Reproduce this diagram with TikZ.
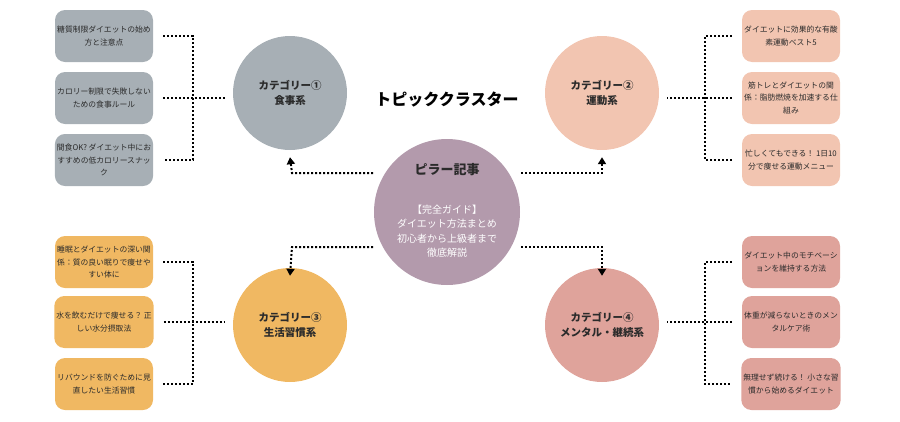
\documentclass[tikz,border=0pt]{standalone}
\usepackage{fontspec}
\setmainfont{Noto Sans CJK JP}
\usetikzlibrary{arrows.meta}
\definecolor{cgray}{HTML}{A7AFB5}
\definecolor{cpeach}{HTML}{F2C5B1}
\definecolor{corange}{HTML}{F0B862}
\definecolor{crose}{HTML}{DFA39B}
\definecolor{cmauve}{HTML}{B39AAC}
\definecolor{ctext}{HTML}{2B2B2B}
\tikzset{
 boxs/.style={rounded corners=10pt,minimum width=98pt,minimum height=52pt,align=center,font=\fontsize{7.8}{12.5}\selectfont,text=ctext,inner sep=2pt},
 catc/.style={circle,minimum size=114pt,inner sep=0pt,align=center,font=\bfseries\fontsize{10.5}{15}\selectfont,text=ctext},
 dots/.style={line width=2pt,dash pattern=on 2pt off 2pt,line cap=butt},
 arr/.style={dots,-{Triangle[width=8pt,length=7pt]}},
}
\begin{document}
\begin{tikzpicture}[x=1pt,y=-1pt]
\useasboundingbox (0,0) rectangle (900,421);
\node[circle,fill=cmauve,minimum size=146pt,inner sep=0pt] (pil) at (447,212) {};
\node[font=\bfseries\fontsize{13}{15}\selectfont,text=ctext] (pt) at (447,170) {ピラー記事};
\node[font=\fontsize{10}{14.5}\selectfont,text=white,align=center] (pb) at (447,231) {【完全ガイド】\\ダイエット方法まとめ\\初心者から上級者まで\\徹底解説};
\node[font=\bfseries\fontsize{16}{18}\selectfont,text=black] (title) at (447,100) {トピッククラスター};
\node[catc,fill=cgray] (c1) at (290,93) {カテゴリー①\\食事系};
\node[catc,fill=cpeach] (c2) at (602,93) {カテゴリー②\\運動系};
\node[catc,fill=corange] (c3) at (290,325) {カテゴリー③\\生活習慣系};
\node[catc,fill=crose] (c4) at (602,325) {カテゴリー④\\メンタル・継続系};
% boxes
\node[boxs,fill=cgray] (a1) at (104,36) {糖質制限ダイエットの始め\\方と注意点};
\node[boxs,fill=cgray] (a2) at (104,98) {カロリー制限で失敗しない\\ための食事ルール};
\node[boxs,fill=cgray] (a3) at (104,160) {間食OK? ダイエット中にお\\すすめの低カロリースナッ\\ク};
\node[boxs,fill=cpeach] (b1) at (791,36) {ダイエットに効果的な有酸\\素運動ベスト5};
\node[boxs,fill=cpeach] (b2) at (791,98) {筋トレとダイエットの関\\係：脂肪燃焼を加速する仕\\組み};
\node[boxs,fill=cpeach] (b3) at (791,160) {忙しくてもできる！ 1日10\\分で痩せる運動メニュー};
\node[boxs,fill=corange] (d1) at (104,262) {睡眠とダイエットの深い関\\係：質の良い眠りで痩せや\\すい体に};
\node[boxs,fill=corange] (d2) at (104,322) {水を飲むだけで痩せる？ 正\\しい水分摂取法};
\node[boxs,fill=corange] (d3) at (104,384) {リバウンドを防ぐために見\\直したい生活習慣};
\node[boxs,fill=crose] (e1) at (791,262) {ダイエット中のモチベーシ\\ョンを維持する方法};
\node[boxs,fill=crose] (e2) at (791,322) {体重が減らないときのメン\\タルケア術};
\node[boxs,fill=crose] (e3) at (791,384) {無理せず続ける！ 小さな習\\慣から始めるダイエット};
% brackets left
\foreach \t/\c/\ya/\yc in {a/c1/36/160,d/c3/262/384}{
 \draw[dots] ([xshift=10pt]\t1.east) -- (193,\ya) -- (193,\yc) -- ([xshift=10pt]\t3.east);
 \draw[dots] ([xshift=10pt]\t2.east) -- ([xshift=-8pt]\c.west |- \t2.east);
}
\foreach \t/\c/\ya/\yc in {b/c2/36/160,e/c4/262/384}{
 \draw[dots] ([xshift=-10pt]\t1.west) -- (705,\ya) -- (705,\yc) -- ([xshift=-10pt]\t3.west);
 \draw[dots] ([xshift=-10pt]\t2.west) -- ([xshift=8pt]\c.east |- \t2.west);
}
% center arrows
\coordinate (p1) at (373,173); \coordinate (p2) at (521,173);
\coordinate (p3) at (373,247); \coordinate (p4) at (521,247);
\draw[arr] (p1) -- (292,173) -- ([yshift=-7pt]c1.south);
\draw[arr] (p2) -- (602,173) -- ([yshift=-7pt]c2.south);
\draw[arr] (p3) -- (292,247) -- ([yshift=-8pt]c3.north);
\draw[arr] (p4) -- (602,247) -- ([yshift=-8pt]c4.north);
\end{tikzpicture}
\end{document}
